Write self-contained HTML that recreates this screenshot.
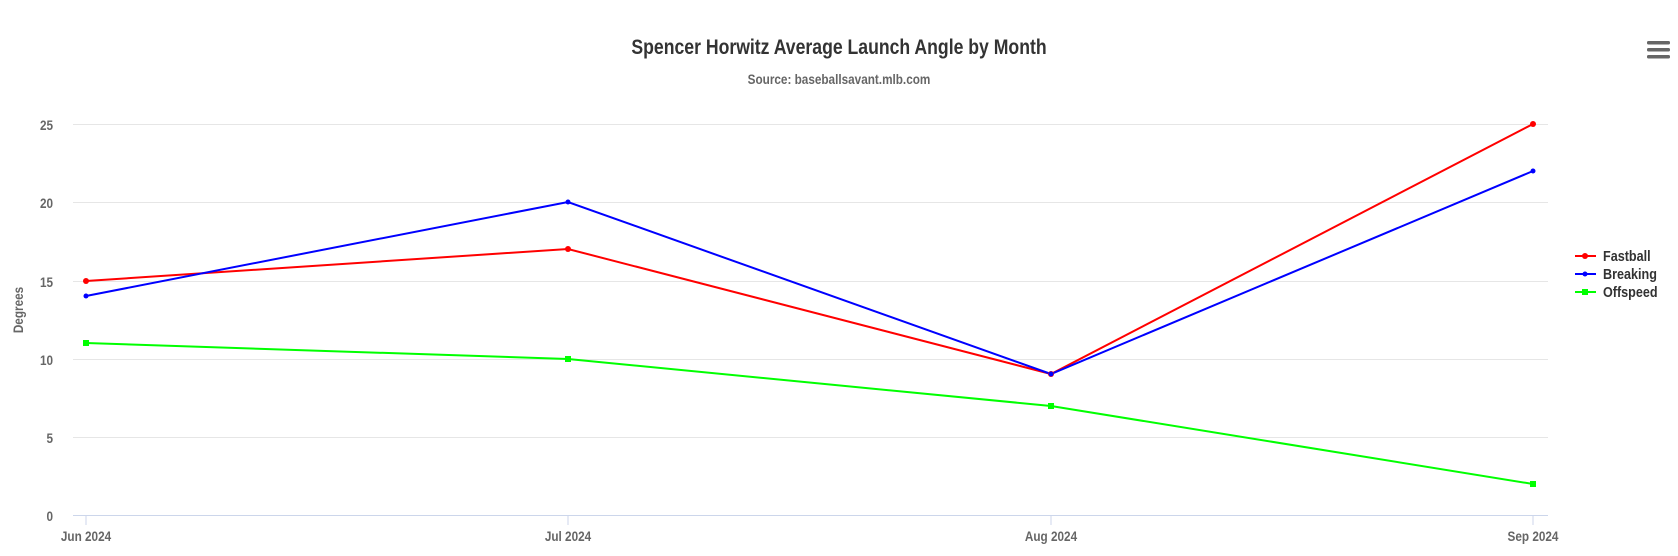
<!DOCTYPE html>
<html><head><style>body{margin:0;background:#fff}svg{display:block}text{font-family:"Liberation Sans",sans-serif;font-weight:bold}</style></head>
<body>
<svg width="1678" height="556" viewBox="0 0 1678 556">
<text transform="translate(839 54) scale(0.84 1)" text-anchor="middle" font-size="21" fill="#333">Spencer Horwitz Average Launch Angle by Month</text>
<text transform="translate(839 84) scale(0.84 1)" text-anchor="middle" font-size="14" fill="#666">Source: baseballsavant.mlb.com</text>
<g fill="#666"><rect x="1647" y="41" width="23" height="3.5" rx="1.5"/><rect x="1647" y="48" width="23" height="3.5" rx="1.5"/><rect x="1647" y="55" width="23" height="3.5" rx="1.5"/></g>
<g stroke="#e6e6e6" stroke-width="1">
<line x1="73" x2="1548" y1="124.5" y2="124.5"/><line x1="73" x2="1548" y1="202.5" y2="202.5"/><line x1="73" x2="1548" y1="281.5" y2="281.5"/><line x1="73" x2="1548" y1="359.5" y2="359.5"/><line x1="73" x2="1548" y1="437.5" y2="437.5"/></g>
<line x1="73" x2="1548" y1="515.5" y2="515.5" stroke="#ccd6eb"/>
<g stroke="#ccd6eb"><line x1="86" x2="86" y1="515" y2="525"/><line x1="568" x2="568" y1="515" y2="525"/><line x1="1051" x2="1051" y1="515" y2="525"/><line x1="1533" x2="1533" y1="515" y2="525"/></g>
<g font-size="14" fill="#666" text-anchor="end">
<text transform="translate(53 130) scale(0.84 1)">25</text><text transform="translate(53 208) scale(0.84 1)">20</text><text transform="translate(53 287) scale(0.84 1)">15</text><text transform="translate(53 365) scale(0.84 1)">10</text><text transform="translate(53 443) scale(0.84 1)">5</text><text transform="translate(53 521) scale(0.84 1)">0</text></g>
<g font-size="14" fill="#666" text-anchor="middle">
<text transform="translate(86 541) scale(0.84 1)">Jun 2024</text><text transform="translate(568 541) scale(0.84 1)">Jul 2024</text><text transform="translate(1051 541) scale(0.84 1)">Aug 2024</text><text transform="translate(1533 541) scale(0.84 1)">Sep 2024</text></g>
<text font-size="14" fill="#666" text-anchor="middle" transform="translate(23 310) rotate(-90) scale(0.84 1)">Degrees</text>
<polyline fill="none" stroke="#00ff00" stroke-width="2" points="86,343 568,359 1051,406 1533,484"/>
<polyline fill="none" stroke="#ff0000" stroke-width="2" points="86,281 568,249 1051,374 1533,124"/>
<polyline fill="none" stroke="#0000ff" stroke-width="2" points="86,296 568,202 1051,374 1533,171"/>
<g fill="#00ff00"><rect x="83" y="340" width="6" height="6"/><rect x="565" y="356" width="6" height="6"/><rect x="1048" y="403" width="6" height="6"/><rect x="1530" y="481" width="6" height="6"/></g>
<g fill="#ff0000"><circle cx="86" cy="281" r="3"/><circle cx="568" cy="249" r="3"/><circle cx="1051" cy="374" r="3"/><circle cx="1533" cy="124" r="3"/></g>
<g fill="#0000ff"><circle cx="86" cy="296" r="2.5"/><circle cx="568" cy="202" r="2.5"/><circle cx="1051" cy="374" r="2.5"/><circle cx="1533" cy="171" r="2.5"/></g>
<line x1="1575" x2="1596" y1="256" y2="256" stroke="#f00" stroke-width="2"/><circle cx="1585" cy="256" r="3" fill="#f00"/>
<line x1="1575" x2="1596" y1="274" y2="274" stroke="#00f" stroke-width="2"/><circle cx="1585" cy="274" r="2.5" fill="#00f"/>
<line x1="1575" x2="1596" y1="292" y2="292" stroke="#0f0" stroke-width="2"/><rect x="1582" y="289" width="6" height="6" fill="#0f0"/>
<g font-size="15" fill="#333"><text transform="translate(1603 261) scale(0.84 1)">Fastball</text><text transform="translate(1603 279) scale(0.84 1)">Breaking</text><text transform="translate(1603 297) scale(0.84 1)">Offspeed</text></g>
</svg>
</body></html>
